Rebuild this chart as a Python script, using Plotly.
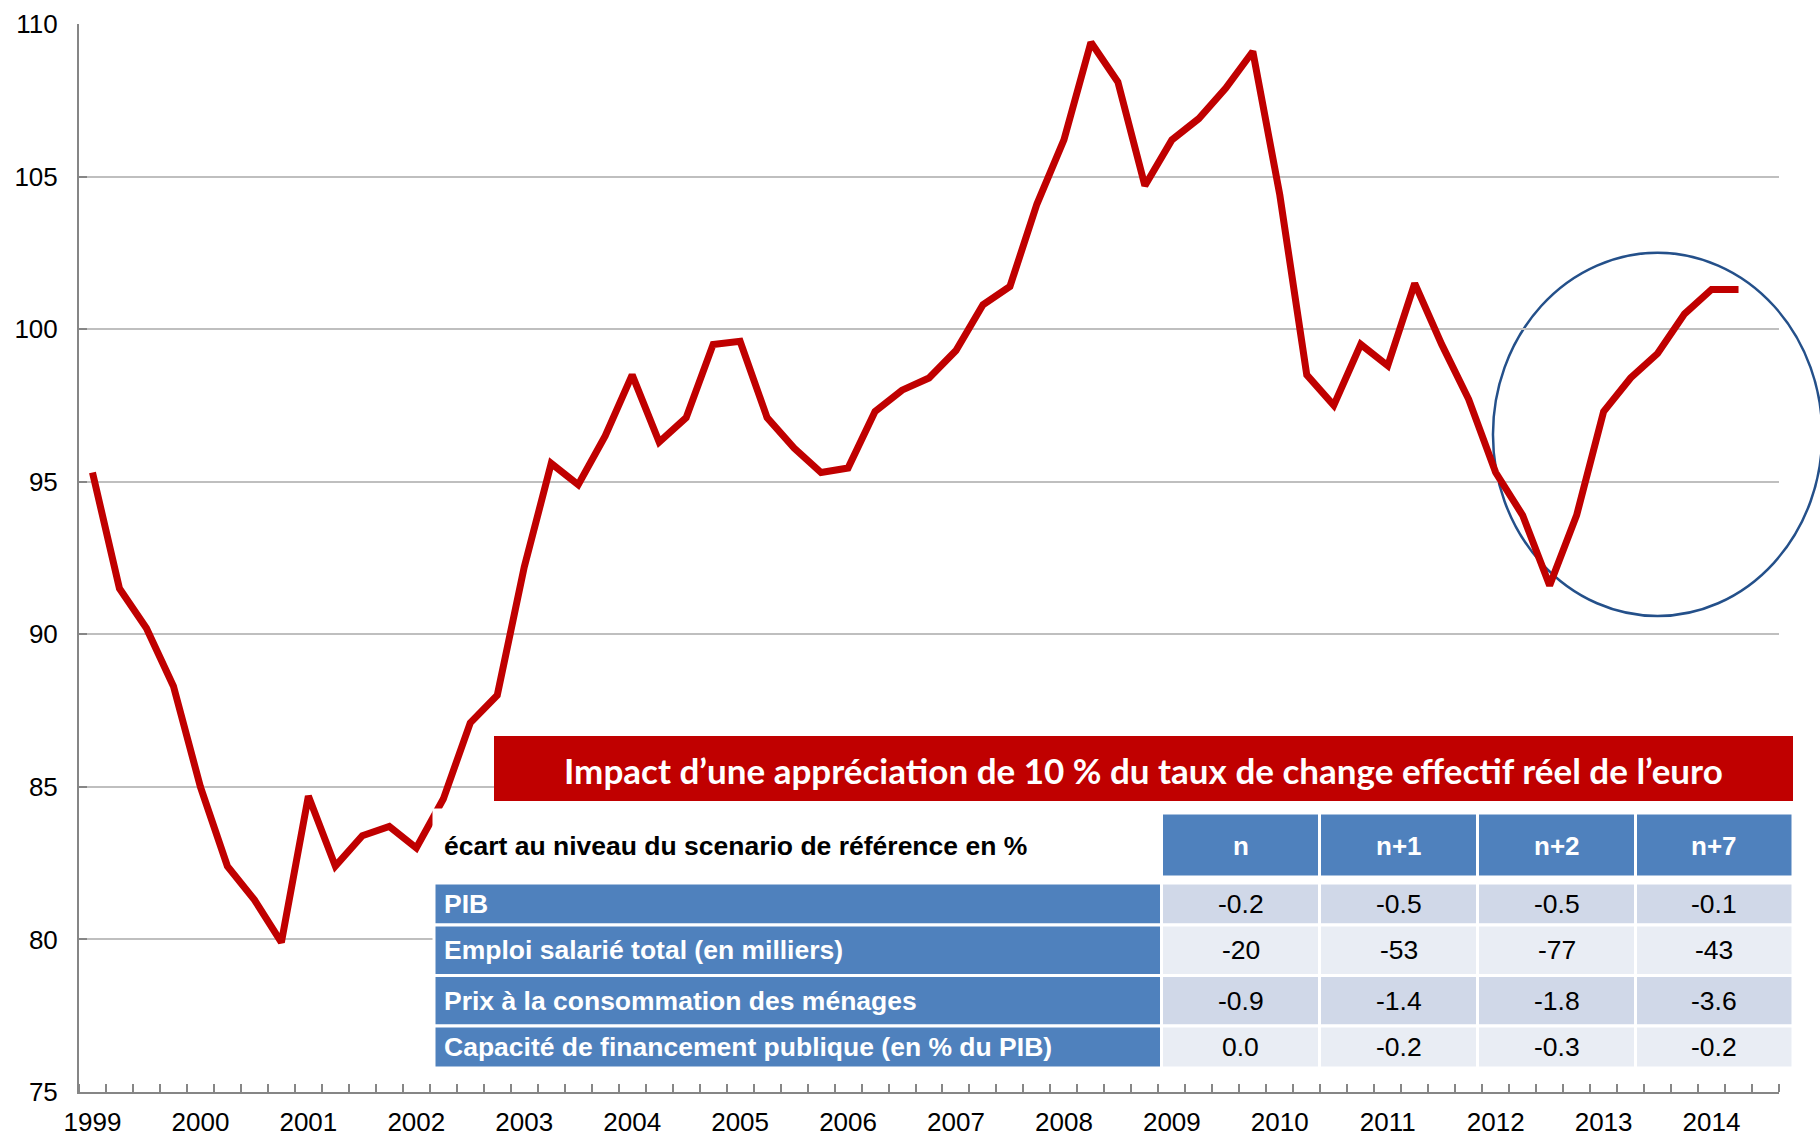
import plotly.graph_objects as go

# ---------------- data ----------------
quarters = [f"{y}T{q}" for y in range(1999, 2015) for q in range(1, 5)][:62]
reer = [95.3, 91.5, 90.2, 88.3, 85.0, 82.4, 81.3, 79.9,
        84.7, 82.4, 83.4, 83.7, 83.0, 84.6, 87.1, 88.0,
        92.2, 95.6, 94.9, 96.5, 98.5, 96.3, 97.1, 99.5,
        99.6, 97.1, 96.1, 95.3, 95.45, 97.3, 98.0, 98.4,
        99.3, 100.8, 101.4, 104.1, 106.2, 109.4, 108.1, 104.7,
        106.2, 106.9, 107.9, 109.1, 104.4, 98.5, 97.5, 99.5,
        98.8, 101.5, 99.5, 97.7, 95.3, 93.9, 91.6, 93.9,
        97.3, 98.4, 99.2, 100.5, 101.3, 101.3]
year_labels = [str(y) for y in range(1999, 2015)]

table_title = "Impact d’une appréciation de 10 % du taux de change effectif réel de l’euro"
table_corner = "écart au niveau du scenario de référence en %"
table_cols = ["n", "n+1", "n+2", "n+7"]
table_rows = ["PIB", "Emploi salarié total (en milliers)",
              "Prix à la consommation des ménages",
              "Capacité de financement publique (en % du PIB)"]
pib = [-0.2, -0.5, -0.5, -0.1]
emploi = [-20, -53, -77, -43]
prix = [-0.9, -1.4, -1.8, -3.6]
capacite = [0.0, -0.2, -0.3, -0.2]
row_formats = ["{:.1f}", "{:.0f}", "{:.1f}", "{:.1f}"]

# highlight ellipse (data units: quarter index, index value)
ellipse_x = (51.9, 64.1)
ellipse_y = (90.6, 102.5)

# ---------------- layout geometry ----------------
W, H = 1820, 1136
PL, PT, PWID, PHGT = 79, 24, 1700, 1068          # plot area in page pixels
L, T = PL, PT
R = W - L - PWID
B = H - T - PHGT
XR = (-0.5, 62.5)
YR = (75, 110)


def px_x(px):
    return (px - PL) / PWID


def px_y(py):
    return (PT + PHGT - py) / PHGT


def dx(v):
    return (v - XR[0]) / (XR[1] - XR[0])


def dy(v):
    return (v - YR[0]) / (YR[1] - YR[0])


ARIAL = "Liberation Sans, Arial, sans-serif"
RED = "#C00000"
BLUE = "#4F81BD"
FILL1 = "#D0D8E8"
FILL2 = "#E9EDF4"

fig = go.Figure()
fig.add_trace(go.Scatter(
    x=list(range(len(reer))), y=reer, mode="lines",
    line=dict(color=RED, width=7),
    text=quarters, hoverinfo="text+y", showlegend=False,
))

shapes = []
annotations = []

# ellipse
shapes.append(dict(type="circle", xref="paper", yref="paper",
                   x0=dx(ellipse_x[0]), x1=dx(ellipse_x[1]),
                   y0=dy(ellipse_y[0]), y1=dy(ellipse_y[1]),
                   line=dict(color="#24508A", width=2.5), layer="below"))

# title bar
tb = (494, 1793, 736, 801)
shapes.append(dict(type="rect", xref="paper", yref="paper",
                   x0=px_x(tb[0]), x1=px_x(tb[1]), y0=px_y(tb[3]), y1=px_y(tb[2]),
                   fillcolor=RED, line=dict(width=0), layer="above"))
annotations.append(dict(xref="paper", yref="paper",
                        x=px_x((tb[0] + tb[1]) / 2), y=px_y((tb[2] + tb[3]) / 2 + 1),
                        text=f"<b>{table_title}</b>", showarrow=False,
                        xanchor="center", yanchor="middle",
                        font=dict(family="Lato, sans-serif", size=35, color="white")))

# table
col_edges = [434, 1161.5, 1319.5, 1477.5, 1635.5, 1793]
head = (810, 877)
row_edges = [883, 925, 975.5, 1026, 1068]
values = [pib, emploi, prix, capacite]


def cell(x0, x1, y0, y1, fill):
    shapes.append(dict(type="rect", xref="paper", yref="paper",
                       x0=px_x(x0), x1=px_x(x1), y0=px_y(y1), y1=px_y(y0),
                       fillcolor=fill, line=dict(color="white", width=3),
                       layer="above"))


# header
cell(col_edges[0], col_edges[1], head[0], head[1], "white")
annotations.append(dict(xref="paper", yref="paper", x=px_x(442),
                        y=px_y((head[0] + head[1]) / 2 + 2),
                        text=f"<b>{table_corner}</b>", showarrow=False,
                        xanchor="left", yanchor="middle",
                        font=dict(family=ARIAL, size=26.5, color="black")))
for j, c in enumerate(table_cols):
    x0, x1 = col_edges[j + 1], col_edges[j + 2]
    cell(x0, x1, head[0] + 3, head[1], BLUE)
    annotations.append(dict(xref="paper", yref="paper", x=px_x((x0 + x1) / 2),
                            y=px_y((head[0] + head[1]) / 2 + 2),
                            text=f"<b>{c}</b>", showarrow=False,
                            xanchor="center", yanchor="middle",
                            font=dict(family=ARIAL, size=26, color="white")))

for i, lab in enumerate(table_rows):
    y0, y1 = row_edges[i], row_edges[i + 1]
    ym = (y0 + y1) / 2
    cell(col_edges[0], col_edges[1], y0, y1, BLUE)
    annotations.append(dict(xref="paper", yref="paper", x=px_x(442), y=px_y(ym),
                            text=f"<b>{lab}</b>", showarrow=False,
                            xanchor="left", yanchor="middle",
                            font=dict(family=ARIAL, size=26.5, color="white")))
    fill = FILL1 if i % 2 == 0 else FILL2
    for j, v in enumerate(values[i]):
        x0, x1 = col_edges[j + 1], col_edges[j + 2]
        cell(x0, x1, y0, y1, fill)
        annotations.append(dict(xref="paper", yref="paper", x=px_x((x0 + x1) / 2),
                                y=px_y(ym),
                                text=row_formats[i].format(v), showarrow=False,
                                xanchor="center", yanchor="middle",
                                font=dict(family=ARIAL, size=26.5, color="black")))

fig.update_layout(
    width=W, height=H,
    margin=dict(l=L, r=R, t=T, b=B, pad=0, autoexpand=False),
    paper_bgcolor="white", plot_bgcolor="rgba(0,0,0,0)",
    shapes=shapes, annotations=annotations,
    showlegend=False,
    xaxis=dict(
        range=list(XR), showgrid=False, zeroline=False, automargin=False,
        tickmode="array", tickvals=[4 * k for k in range(len(year_labels))],
        ticktext=year_labels, ticks="", ticklabelstandoff=6,
        tickfont=dict(family=ARIAL, size=26, color="black"),
        showline=True, linecolor="#868686", linewidth=2,
        minor=dict(tickmode="linear", tick0=-0.5, dtick=1, ticks="inside",
                   ticklen=8, tickwidth=1.5, tickcolor="#868686", showgrid=False),
    ),
    yaxis=dict(
        range=list(YR), dtick=5, tick0=75, showgrid=True, automargin=False,
        gridcolor="#BFBFBF", gridwidth=1.5, zeroline=False,
        ticks="inside", ticklen=8, tickwidth=1.5, tickcolor="#868686",
        ticklabelstandoff=14,
        tickfont=dict(family=ARIAL, size=26, color="black"),
        showline=True, linecolor="#868686", linewidth=2,
    ),
)

# remove the browser's default 8px page margin so the figure fills the window
fig.write_html("out.html",
               config={"displayModeBar": False},
               post_script="document.body.style.margin='0';"
                           "document.body.style.overflow='hidden';")
